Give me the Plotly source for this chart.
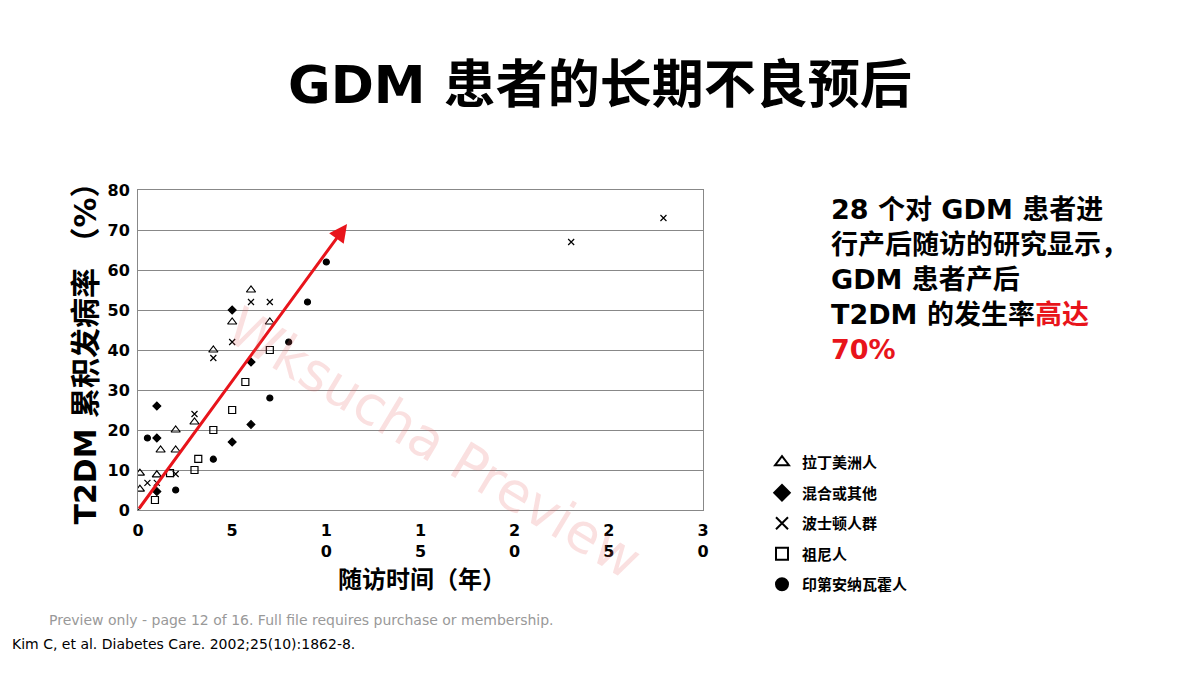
import plotly.graph_objects as go

lat_x = [0.1, 0.1, 1, 1.2, 2, 2, 3, 4, 5, 6, 7]
lat_y = [9.2, 5.2, 8.8, 15, 20, 15, 22, 40, 47, 55, 47]
mix_x = [1, 1, 1, 5, 6, 6, 5]
mix_y = [26, 18, 4.6, 50, 37, 21.4, 17]
bos_x = [0, 0.5, 1, 2, 3, 4, 5, 6, 7, 23, 27.9]
bos_y = [0, 6.8, 6.8, 9, 24, 38, 42, 52, 52, 67, 73]
zun_x = [0.9, 1.7, 3, 3.2, 4, 5, 5.7, 7]
zun_y = [2.5, 9.2, 10, 12.8, 20, 25, 32, 40]
pima_x = [0.5, 2, 4, 7, 8, 9, 10]
pima_y = [18, 5, 12.7, 28, 42, 52, 62]
x_ticks = [0, 5, 10, 15, 20, 25, 30]
x_labels = ["0", "5", "1<br>0", "1<br>5", "2<br>0", "2<br>5", "3<br>0"]
y_ticks = [0, 10, 20, 30, 40, 50, 60, 70, 80]
arrow_start = (0, 0)
arrow_end = (11.1, 71.5)

F = "DejaVu Sans, Noto Sans CJK SC"
fig = go.Figure()
series = [
    ("拉丁美洲人", lat_x, lat_y, "triangle-up-open", 8),
    ("混合或其他", mix_x, mix_y, "diamond", 6),
    ("波士顿人群", bos_x, bos_y, "x-thin-open", 6),
    ("祖尼人", zun_x, zun_y, "square-open", 7),
    ("印第安纳瓦霍人", pima_x, pima_y, "circle", 6),
]
for name, xs, ys, sym, sz in series:
    fig.add_trace(go.Scatter(x=xs, y=ys, mode="markers", name=name, legendgroup=name,
                             marker=dict(symbol=sym, size=sz, color="black",
                                         line=dict(color="black", width=1.2))))

fig.add_annotation(x=arrow_end[0], y=arrow_end[1], ax=arrow_start[0], ay=arrow_start[1],
                   xref="x", yref="y", axref="x", ayref="y", showarrow=True,
                   arrowhead=2, arrowsize=1.2, arrowwidth=3, arrowcolor="#e8141b", text="")

fig.add_annotation(text="<b>GDM 患者的长期不良预后</b>", x=0.5, y=1 - 85/676, xref="paper", yref="paper",
                   showarrow=False, font=dict(family=F, size=52, color="black"), xanchor="center", yanchor="middle")
fig.add_annotation(text="<b>28 个对 GDM 患者进<br>行产后随访的研究显示，<br>GDM 患者产后<br>T2DM 的发生率<span style='color:#e8141b'>高达<br>70%</span></b>",
                   x=829/1200, y=1 - 192/676, xref="paper", yref="paper", showarrow=False, align="left",
                   xanchor="left", yanchor="top", font=dict(family=F, size=27, color="black"))
fig.add_annotation(text="<b>T2DM 累积发病率 （%）</b>", x=66/1200, y=1 - 346/676, xref="paper", yref="paper",
                   showarrow=False, textangle=-90, font=dict(family=F, size=30, color="black"))
fig.add_annotation(text="<b>随访时间（年）</b>", x=422/1200, y=1 - 566/676, xref="paper", yref="paper",
                   showarrow=False, yanchor="middle", yshift=-14, font=dict(family=F, size=24, color="black"))
fig.add_annotation(text="Wksucha Preview", x=440/1200, y=1 - 595/676, xref="paper", yref="paper",
                   showarrow=False, textangle=31, xshift=-6, font=dict(family=F, size=54, color="rgba(232,100,100,0.2)"))
fig.add_annotation(text="Preview only - page 12 of 16. Full file requires purchase or membership.",
                   x=47/1200, y=1 - 630/676, xref="paper", yref="paper", showarrow=False, xanchor="left",
                   font=dict(family=F, size=14, color="#999999"))
fig.add_annotation(text="Kim C, et al. Diabetes Care. 2002;25(10):1862-8.",
                   x=10/1200, y=1 - 654/676, xref="paper", yref="paper", showarrow=False, xanchor="left",
                   font=dict(family=F, size=14, color="black"))

fig.update_layout(
    width=1200, height=676, paper_bgcolor="white", plot_bgcolor="white",
    margin=dict(l=0, r=0, t=0, b=0), showlegend=True,
    legend=dict(x=762/1200, y=1 - 446/676, xanchor="left", yanchor="top", bgcolor="rgba(0,0,0,0)",
                font=dict(family=F, size=15, color="black", weight="bold"), tracegroupgap=8, itemsizing="constant"),
    xaxis=dict(domain=[138/1200, 703/1200], range=[0, 30], tickvals=x_ticks, ticktext=x_labels,
               showgrid=False, zeroline=False, showline=True, linecolor="#888", mirror=True, automargin=False,
               ticks="outside", ticklen=6, tickcolor="rgba(0,0,0,0)",
               tickfont=dict(family=F, size=16, color="black", weight="bold")),
    yaxis=dict(domain=[1 - 510/676, 1 - 190/676], range=[0, 80], tickvals=y_ticks, automargin=False,
               showgrid=True, gridcolor="#888", zeroline=False, showline=True, linecolor="#888", mirror=True,
               ticks="outside", ticklen=4, tickcolor="rgba(0,0,0,0)",
               tickfont=dict(family=F, size=16, color="black", weight="bold")),
)
fig.write_html("out.html", config={"displayModeBar": False},
               post_script="document.body.style.margin='0';document.body.style.overflow='hidden';")
